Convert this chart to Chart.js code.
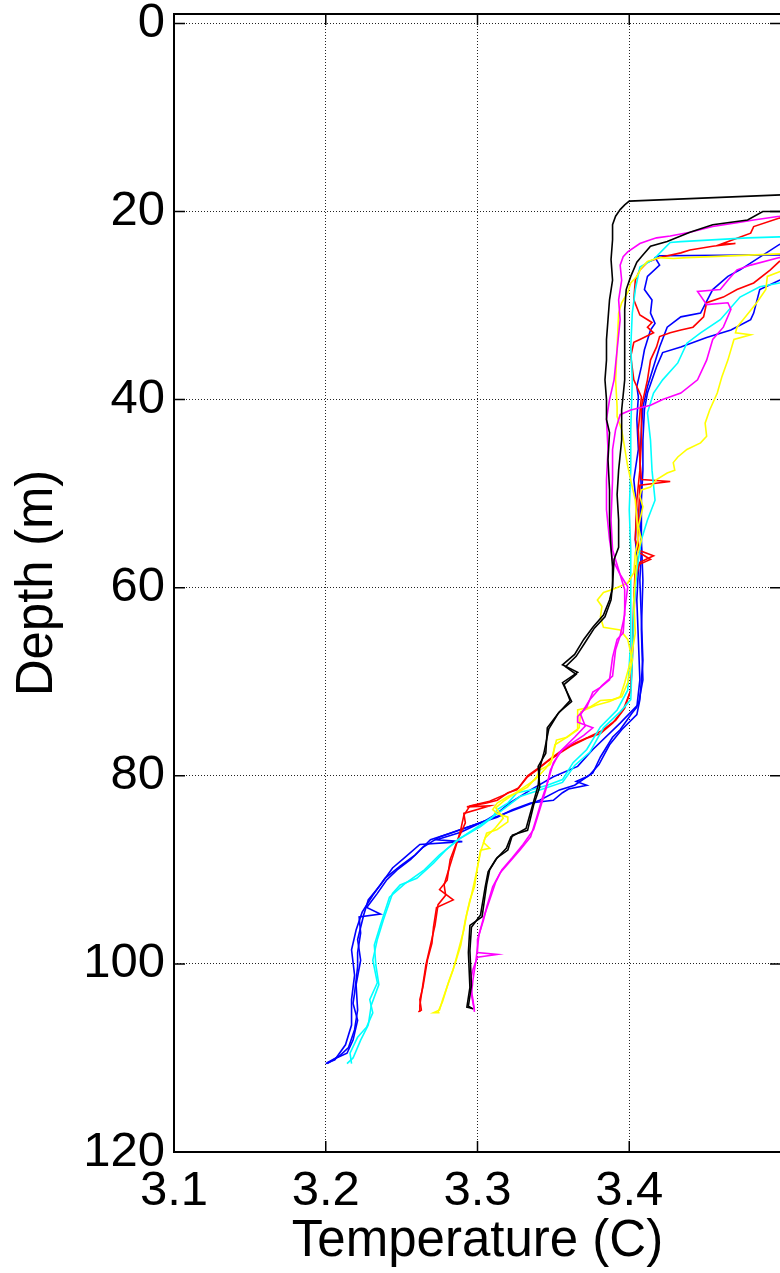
<!DOCTYPE html>
<html lang="en">
<head>
  <meta charset="UTF-8">
  <title>Temperature profiles</title>
  <script src="https://cdn.jsdelivr.net/npm/chart.js"></script>
  <style>
    html, body {
      margin: 0;
      padding: 0;
      overflow: hidden;
      background: #fff;
    }
  </style>
</head>
<body>
  <canvas id="profileChart" width="790" height="1273"></canvas>

  <script>
// axis ticks
const tempTicks = [3.1, 3.2, 3.3, 3.4, 3.5];
const depthTicks = [0, 20, 40, 60, 80, 100, 120];

// casts: temperature (C) and depth (m), read down each profile
const tBlackA = [3.520, 3.400, 3.397, 3.394, 3.391, 3.389, 3.389, 3.388, 3.389, 3.387,
  3.386, 3.385, 3.385, 3.384, 3.385, 3.385, 3.387, 3.386, 3.387, 3.387,
  3.388, 3.389, 3.389, 3.387, 3.383, 3.376, 3.370, 3.364, 3.356, 3.366,
  3.356, 3.362, 3.354, 3.346, 3.345, 3.340, 3.341, 3.337, 3.333, 3.323,
  3.320, 3.313, 3.308, 3.306, 3.303, 3.295, 3.294, 3.295, 3.293, 3.296];
const dBlackA = [18.1, 18.9, 19.3, 19.8, 20.5, 21.4, 23.0, 25.1, 27.3, 29.4,
  31.5, 33.6, 35.8, 37.9, 40.0, 42.1, 43.5, 46.4, 49.6, 52.8,
  55.8, 57.8, 60.0, 61.3, 62.9, 64.2, 65.5, 67.1, 68.2, 69.0,
  70.1, 72.1, 73.2, 74.9, 77.6, 79.0, 81.2, 83.1, 85.8, 86.3,
  87.9, 88.7, 90.0, 91.6, 95.0, 95.9, 98.8, 102.5, 104.6, 104.7];

const tBlackB = [3.520, 3.488, 3.478, 3.455, 3.440, 3.425, 3.414, 3.408, 3.405, 3.401,
  3.398, 3.397, 3.397, 3.397, 3.397, 3.395, 3.395, 3.393, 3.392, 3.393,
  3.393, 3.390, 3.389, 3.388, 3.384, 3.377, 3.371, 3.365, 3.358, 3.365,
  3.357, 3.361, 3.353, 3.347, 3.344, 3.341, 3.340, 3.336, 3.332, 3.322,
  3.319, 3.312, 3.307, 3.305, 3.302, 3.296, 3.295, 3.296, 3.294, 3.297];
const dBlackB = [20.0, 20.0, 20.9, 21.4, 22.2, 23.2, 23.7, 24.8, 25.4, 26.9,
  28.3, 30.4, 32.3, 34.7, 37.9, 41.1, 44.3, 47.5, 50.1, 52.8,
  55.7, 57.0, 59.7, 61.3, 63.1, 64.3, 65.8, 67.3, 68.4, 69.2,
  70.3, 72.0, 73.4, 75.0, 77.4, 79.2, 81.0, 83.3, 85.6, 86.5,
  87.7, 88.9, 90.2, 91.9, 94.8, 96.1, 98.6, 102.3, 104.5, 104.8];

const tBlueA = [3.513, 3.420, 3.417, 3.420, 3.412, 3.410, 3.415, 3.414, 3.417, 3.414,
  3.410, 3.408, 3.405, 3.406, 3.405, 3.406, 3.403, 3.405, 3.404, 3.406,
  3.405, 3.406, 3.407, 3.405, 3.402, 3.394, 3.389, 3.381, 3.376, 3.372,
  3.365, 3.372, 3.360, 3.356, 3.350, 3.335, 3.323, 3.313, 3.302, 3.289,
  3.275, 3.264, 3.256, 3.247, 3.240, 3.234, 3.227, 3.236, 3.222, 3.223,
  3.221, 3.221, 3.219, 3.218, 3.221, 3.218, 3.214, 3.207, 3.201];
const dBlueA = [24.6, 24.7, 24.9, 25.7, 26.9, 28.3, 29.4, 30.8, 31.9, 32.6,
  34.7, 36.5, 38.6, 39.7, 42.1, 45.3, 48.5, 51.7, 54.9, 58.1,
  61.3, 65.5, 69.8, 72.7, 73.3, 75.1, 75.9, 78.0, 79.7, 80.1,
  80.6, 81.0, 81.4, 81.8, 82.6, 82.9, 83.6, 84.4, 85.0, 85.7,
  86.5, 87.6, 88.9, 90.0, 91.1, 92.5, 94.0, 94.7, 95.0, 96.7,
  98.8, 100.3, 103.1, 104.2, 106.0, 108.1, 109.5, 110.0, 110.6];

const tBlueB = [3.513, 3.499, 3.473, 3.465, 3.455, 3.447, 3.434, 3.425, 3.420, 3.416,
  3.412, 3.409, 3.408, 3.407, 3.408, 3.407, 3.408, 3.407, 3.408, 3.409,
  3.407, 3.405, 3.395, 3.387, 3.380, 3.374, 3.364, 3.354, 3.341, 3.328,
  3.315, 3.298, 3.282, 3.269, 3.259, 3.249, 3.239, 3.231, 3.224, 3.220,
  3.217, 3.219, 3.217, 3.217, 3.213, 3.206, 3.200];
const dBlueB = [23.0, 23.5, 26.2, 26.9, 28.3, 30.8, 31.2, 32.3, 34.4, 36.5,
  38.6, 40.8, 43.2, 46.4, 49.6, 52.8, 56.0, 59.2, 63.4, 67.7,
  71.9, 73.5, 75.1, 76.7, 78.8, 79.9, 81.0, 81.5, 82.6, 83.4,
  84.2, 85.2, 86.1, 86.8, 88.4, 89.6, 90.9, 92.7, 94.5, 96.4,
  98.5, 101.2, 103.8, 106.5, 108.6, 110.2, 110.6];

const tBlueC = [3.513, 3.499, 3.486, 3.482, 3.480, 3.467, 3.451, 3.434, 3.422, 3.418,
  3.412, 3.410, 3.409, 3.409, 3.408, 3.408, 3.409, 3.408, 3.409, 3.406,
  3.394, 3.376, 3.366, 3.350, 3.335, 3.321, 3.313, 3.306, 3.289, 3.273,
  3.290, 3.262, 3.252, 3.244, 3.236, 3.228, 3.225, 3.221, 3.223, 3.220,
  3.221, 3.219, 3.215, 3.209, 3.201];
const dBlueC = [26.8, 27.3, 28.3, 30.8, 31.5, 32.6, 33.4, 34.4, 35.0, 36.5,
  39.3, 41.1, 44.3, 47.5, 50.7, 54.9, 59.2, 64.5, 69.8, 72.4,
  74.4, 77.2, 79.0, 80.1, 81.5, 82.9, 84.0, 84.7, 86.0, 86.8,
  87.0, 87.3, 88.7, 89.8, 91.6, 93.2, 94.8, 97.4, 99.6, 102.2,
  104.9, 107.0, 108.9, 109.8, 110.5];

const tCyanA = [3.513, 3.499, 3.478, 3.434, 3.427, 3.422, 3.416, 3.407, 3.404, 3.402,
  3.401, 3.402, 3.401, 3.401, 3.400, 3.401, 3.401, 3.401, 3.399, 3.392,
  3.381, 3.372, 3.363, 3.356, 3.346, 3.335, 3.326, 3.320, 3.313, 3.310,
  3.302, 3.287, 3.279, 3.271, 3.260, 3.249, 3.244, 3.238, 3.234, 3.231,
  3.234, 3.229, 3.231, 3.227, 3.221, 3.216, 3.217];
const dCyanA = [22.6, 22.7, 22.8, 23.2, 23.3, 24.1, 25.1, 25.9, 28.3, 30.8,
  34.4, 37.9, 43.2, 47.5, 51.7, 56.0, 61.3, 65.5, 70.9, 73.0,
  74.8, 77.2, 78.6, 80.4, 81.0, 81.5, 81.8, 82.9, 83.6, 84.4,
  85.4, 86.8, 87.9, 89.3, 90.9, 91.6, 92.5, 95.3, 97.4, 99.6,
  102.0, 103.8, 105.2, 106.7, 107.8, 109.5, 110.6];

const tCyanB = [3.513, 3.499, 3.486, 3.473, 3.460, 3.447, 3.438, 3.432, 3.422, 3.416,
  3.412, 3.414, 3.415, 3.417, 3.412, 3.408, 3.405, 3.403, 3.402, 3.401,
  3.394, 3.383, 3.374, 3.364, 3.356, 3.341, 3.328, 3.315, 3.305, 3.289,
  3.275, 3.265, 3.252, 3.242, 3.236, 3.232, 3.233, 3.235, 3.230, 3.228,
  3.223, 3.218, 3.214];
const dCyanB = [27.3, 27.6, 28.0, 29.1, 31.5, 32.9, 34.0, 36.1, 37.9, 39.3,
  41.4, 44.3, 47.5, 50.7, 52.8, 54.9, 58.1, 62.4, 67.7, 71.9,
  73.2, 74.9, 77.5, 78.9, 80.7, 81.5, 82.2, 83.8, 84.9, 86.6,
  88.4, 90.0, 91.5, 92.9, 95.9, 98.0, 100.1, 102.2, 104.4, 106.5,
  108.1, 110.0, 110.6];

const tRedA = [3.513, 3.499, 3.482, 3.480, 3.460, 3.470, 3.455, 3.440, 3.434, 3.420,
  3.412, 3.407, 3.404, 3.403, 3.407, 3.415, 3.412, 3.416, 3.407, 3.403,
  3.401, 3.403, 3.408, 3.406, 3.407, 3.408, 3.427, 3.407, 3.406, 3.406,
  3.416, 3.407, 3.404, 3.403, 3.402, 3.401, 3.396, 3.389, 3.381, 3.372,
  3.361, 3.354, 3.346, 3.339, 3.333, 3.326, 3.320, 3.313, 3.306, 3.293,
  3.308, 3.291, 3.292, 3.287, 3.282, 3.280, 3.275, 3.284, 3.273, 3.271,
  3.270, 3.267, 3.264, 3.262, 3.263, 3.261];
const dRedA = [20.3, 20.7, 21.6, 22.3, 23.5, 23.4, 23.7, 24.1, 24.4, 24.9,
  25.4, 26.2, 27.3, 29.4, 31.0, 31.8, 32.3, 32.9, 33.6, 33.9,
  35.4, 37.9, 39.7, 43.2, 46.4, 48.5, 48.7, 49.1, 52.8, 56.0,
  56.6, 57.3, 59.2, 63.4, 67.7, 70.9, 73.0, 74.4, 75.5, 76.0,
  76.9, 77.6, 78.5, 79.4, 80.1, 81.5, 81.8, 82.6, 82.9, 83.3,
  83.2, 84.0, 85.0, 86.8, 88.9, 91.1, 92.1, 93.2, 94.0, 96.1,
  97.8, 99.6, 102.5, 103.8, 104.9, 105.1];

const tRedB = [3.513, 3.499, 3.493, 3.482, 3.471, 3.462, 3.451, 3.449, 3.442, 3.434,
  3.427, 3.420, 3.418, 3.414, 3.412, 3.408, 3.408, 3.407, 3.405, 3.404,
  3.406, 3.414, 3.404, 3.403, 3.402, 3.401, 3.397, 3.391, 3.382, 3.373,
  3.362, 3.354, 3.347, 3.340, 3.333, 3.327, 3.318, 3.308, 3.295, 3.291,
  3.289, 3.285, 3.281, 3.278, 3.279, 3.274, 3.272, 3.269, 3.266, 3.264,
  3.262, 3.262];
const dRedB = [24.9, 25.3, 26.2, 27.6, 28.3, 29.1, 29.7, 31.2, 32.3, 32.6,
  32.9, 33.3, 34.4, 35.8, 37.9, 40.8, 44.3, 47.5, 50.7, 54.9,
  56.2, 57.0, 57.7, 61.3, 66.6, 70.9, 72.8, 74.1, 75.2, 75.9,
  76.7, 77.5, 78.3, 79.2, 80.0, 81.3, 82.0, 82.7, 83.2, 84.2,
  85.7, 87.9, 90.0, 91.6, 92.7, 93.7, 95.9, 98.0, 100.1, 102.2,
  104.4, 105.1];

const tMagentaA = [3.513, 3.499, 3.482, 3.471, 3.455, 3.440, 3.427, 3.418, 3.414, 3.407,
  3.399, 3.396, 3.394, 3.395, 3.393, 3.394, 3.392, 3.390, 3.387, 3.385,
  3.386, 3.385, 3.385, 3.387, 3.389, 3.394, 3.399, 3.397, 3.396, 3.392,
  3.389, 3.387, 3.381, 3.376, 3.372, 3.366, 3.366, 3.376, 3.370, 3.356,
  3.350, 3.346, 3.343, 3.339, 3.335, 3.328, 3.321, 3.315, 3.310, 3.306,
  3.304, 3.300, 3.300, 3.313, 3.300, 3.297, 3.295, 3.297, 3.298];
const dMagentaA = [20.1, 20.5, 20.9, 21.2, 21.6, 22.2, 22.6, 22.8, 23.0, 23.4,
  24.3, 24.8, 25.7, 27.3, 29.4, 31.5, 34.7, 37.9, 40.0, 42.1,
  45.3, 48.5, 51.7, 54.9, 57.0, 58.6, 59.9, 62.4, 64.8, 65.5,
  67.4, 69.8, 70.6, 71.1, 72.7, 73.7, 74.3, 74.9, 75.7, 77.2,
  78.6, 80.8, 82.2, 84.4, 86.5, 87.9, 89.2, 90.3, 91.8, 94.0,
  95.3, 97.4, 98.8, 99.0, 99.3, 100.6, 102.0, 103.8, 105.1];

const tMagentaB = [3.513, 3.499, 3.480, 3.471, 3.465, 3.460, 3.445, 3.451, 3.465, 3.467,
  3.462, 3.455, 3.451, 3.445, 3.434, 3.422, 3.414, 3.401, 3.394, 3.391,
  3.389, 3.389, 3.388, 3.389, 3.393, 3.397, 3.397, 3.394, 3.391, 3.389,
  3.382, 3.374, 3.368, 3.371, 3.364, 3.354, 3.348, 3.345, 3.341, 3.337,
  3.330, 3.323, 3.316, 3.312, 3.308, 3.304, 3.301, 3.299, 3.297, 3.296,
  3.298];
const dMagentaB = [24.6, 24.9, 25.7, 26.2, 27.3, 28.3, 28.5, 29.9, 29.7, 30.4,
  32.3, 33.6, 35.8, 37.9, 39.3, 40.0, 40.6, 41.1, 41.6, 43.2,
  45.3, 48.5, 52.8, 56.0, 58.1, 60.2, 62.9, 65.1, 66.6, 69.4,
  70.4, 71.9, 73.5, 74.7, 75.9, 77.5, 79.4, 81.5, 83.6, 85.7,
  87.3, 88.7, 90.0, 91.3, 93.2, 95.1, 96.9, 99.6, 101.7, 103.3,
  104.9];

const tYellowA = [3.513, 3.499, 3.438, 3.429, 3.420, 3.412, 3.408, 3.405, 3.401, 3.399,
  3.395, 3.393, 3.392, 3.391, 3.392, 3.392, 3.395, 3.399, 3.402, 3.404,
  3.406, 3.404, 3.403, 3.399, 3.389, 3.383, 3.379, 3.382, 3.381, 3.383,
  3.394, 3.399, 3.402, 3.399, 3.395, 3.389, 3.381, 3.374, 3.366, 3.366,
  3.359, 3.352, 3.350, 3.348, 3.341, 3.339, 3.333, 3.326, 3.320, 3.313,
  3.310, 3.313, 3.320, 3.320, 3.313, 3.306, 3.304, 3.308, 3.302, 3.300,
  3.298, 3.295, 3.293, 3.291, 3.287, 3.284, 3.280, 3.277, 3.275, 3.271,
  3.275];
const dYellowA = [24.4, 24.5, 24.9, 25.0, 24.9, 25.3, 26.0, 26.9, 27.6, 28.6,
  29.7, 30.8, 34.4, 37.9, 40.8, 41.8, 43.2, 47.1, 49.3, 50.7,
  54.9, 56.3, 58.4, 59.5, 60.2, 60.5, 61.3, 62.0, 63.1, 64.2,
  64.5, 65.5, 67.7, 70.1, 71.6, 71.9, 72.0, 72.7, 73.0, 75.1,
  75.9, 76.2, 77.6, 78.8, 79.4, 80.1, 81.2, 81.8, 82.2, 82.9,
  83.6, 84.0, 84.4, 84.9, 85.7, 86.1, 87.1, 87.7, 87.9, 89.7,
  91.8, 93.2, 94.6, 96.4, 98.8, 100.6, 102.4, 103.8, 104.9, 105.2,
  105.2];

const tYellowB = [3.513, 3.499, 3.491, 3.490, 3.484, 3.475, 3.471, 3.470, 3.480, 3.469,
  3.465, 3.461, 3.458, 3.453, 3.450, 3.451, 3.447, 3.438, 3.432, 3.429,
  3.430, 3.425, 3.418, 3.414, 3.408, 3.407, 3.409, 3.406, 3.408, 3.405,
  3.404, 3.403, 3.404, 3.401, 3.397, 3.394, 3.387, 3.378, 3.368, 3.367,
  3.358, 3.351, 3.349, 3.345, 3.338, 3.328, 3.318, 3.312, 3.317, 3.312,
  3.305, 3.302, 3.299, 3.296, 3.292, 3.289, 3.285, 3.281, 3.277, 3.274];
const dYellowB = [26.0, 26.4, 26.9, 28.3, 29.7, 31.5, 32.3, 32.9, 33.1, 33.6,
  35.8, 37.6, 39.3, 41.1, 42.5, 43.9, 44.6, 45.3, 46.1, 46.7,
  47.5, 47.8, 48.5, 49.3, 49.6, 50.3, 51.4, 53.5, 54.9, 56.7,
  59.2, 61.3, 64.8, 67.7, 70.1, 71.6, 72.1, 72.5, 73.2, 74.9,
  76.0, 76.7, 78.3, 79.2, 80.4, 81.5, 82.6, 83.4, 84.5, 85.5,
  86.6, 88.1, 90.5, 92.7, 95.3, 98.0, 100.1, 101.9, 104.0, 105.1];

const casts = [
  { t: tBlackA, d: dBlackA, color: "#000000" },
  { t: tBlackB, d: dBlackB, color: "#000000" },
  { t: tMagentaA, d: dMagentaA, color: "#ff00ff" },
  { t: tMagentaB, d: dMagentaB, color: "#ff00ff" },
  { t: tYellowA, d: dYellowA, color: "#ffff00" },
  { t: tYellowB, d: dYellowB, color: "#ffff00" },
  { t: tCyanA, d: dCyanA, color: "#00ffff" },
  { t: tCyanB, d: dCyanB, color: "#00ffff" },
  { t: tRedA, d: dRedA, color: "#ff0000" },
  { t: tRedB, d: dRedB, color: "#ff0000" },
  { t: tBlueA, d: dBlueA, color: "#0000ff" },
  { t: tBlueB, d: dBlueB, color: "#0000ff" },
  { t: tBlueC, d: dBlueC, color: "#0000ff" }
];

const datasets = casts.map(c => ({
  data: c.t.map((v, i) => ({ x: v, y: c.d[i] })),
  borderColor: c.color,
  borderWidth: 1.6,
  pointRadius: 0,
  tension: 0,
  fill: false
}));

const tickFont = { family: "'Liberation Sans', Arial, sans-serif", size: 49 };
const titleFont = { family: "'Liberation Sans', Arial, sans-serif", size: 51 };

// solid box round the plot with inward tick marks on every side
const boxPlugin = {
  id: "box",
  afterDraw(chart) {
    const { ctx, chartArea: a, scales } = chart;
    const len = 11;
    ctx.save();
    ctx.strokeStyle = "#000";
    ctx.lineWidth = 1.5;
    ctx.beginPath();
    tempTicks.forEach(v => {
      const px = scales.x.getPixelForValue(v);
      ctx.moveTo(px, a.bottom); ctx.lineTo(px, a.bottom - len);
      ctx.moveTo(px, a.top); ctx.lineTo(px, a.top + len);
    });
    depthTicks.forEach(v => {
      const py = scales.y.getPixelForValue(v);
      ctx.moveTo(a.left, py); ctx.lineTo(a.left + len, py);
      ctx.moveTo(a.right, py); ctx.lineTo(a.right - len, py);
    });
    ctx.stroke();
    ctx.lineWidth = 2;
    ctx.strokeRect(a.left, a.top, a.right - a.left, a.bottom - a.top);
    ctx.restore();
  }
};

new Chart(document.getElementById("profileChart"), {
  type: "scatter",
  data: { datasets },
  options: {
    responsive: false,
    animation: false,
    showLine: true,
    layout: { padding: { top: 14, right: 9, left: 0, bottom: 0 } },
    plugins: {
      legend: { display: false },
      tooltip: { enabled: false }
    },
    scales: {
      x: {
        type: "linear",
        min: 3.1,
        max: 3.5,
        afterBuildTicks: axis => { axis.ticks = tempTicks.map(v => ({ value: v })); },
        afterFit: axis => {
          axis.height = 121;
          axis.paddingLeft = 0;
          axis.paddingRight = 0;
        },
        grid: { color: "#222", lineWidth: 1, drawTicks: false },
        border: { display: false, dash: [1, 2] },
        ticks: {
          font: tickFont,
          color: "#000",
          padding: 10,
          maxRotation: 0,
          callback: v => (v >= 3.45 ? "" : v.toFixed(1))
        },
        title: {
          display: true,
          text: "Temperature (C)",
          font: titleFont,
          color: "#000",
          padding: { top: 0, bottom: 0 }
        }
      },
      y: {
        type: "linear",
        reverse: true,
        min: -1,
        max: 120,
        afterBuildTicks: axis => { axis.ticks = depthTicks.map(v => ({ value: v })); },
        afterFit: axis => {
          axis.width = 174;
          axis.paddingTop = 0;
          axis.paddingBottom = 0;
        },
        grid: { color: "#222", lineWidth: 1, drawTicks: false },
        border: { display: false, dash: [1, 2] },
        ticks: {
          font: tickFont,
          color: "#000",
          padding: 9,
          callback: v => String(v)
        },
        title: {
          display: true,
          text: "Depth (m)",
          font: titleFont,
          color: "#000",
          padding: { top: 7, bottom: 0 }
        }
      }
    }
  },
  plugins: [boxPlugin]
});
  </script>
</body>
</html>
